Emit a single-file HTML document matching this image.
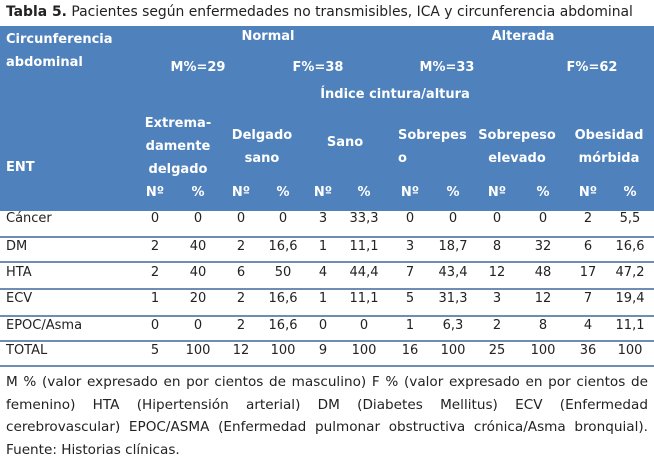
<!DOCTYPE html>
<html><head><meta charset="utf-8"><style>
body{margin:0;width:654px;height:461px;background:#fff;position:relative;overflow:hidden;font-family:"DejaVu Sans","Liberation Sans",sans-serif;font-size:13px;color:#222}
.a{position:absolute;white-space:nowrap;line-height:16px}
.c{transform:translateX(-50%);text-align:center}
.w{color:#fff;font-weight:bold}
.hd{position:absolute;left:0;top:26px;width:654px;height:185px;background:#4f81bd}
.ln{position:absolute;left:0;width:654px;height:2px;background:#6f8cb3}
.ft{position:absolute;left:6px;width:642px;text-align:justify;text-align-last:left;line-height:22.5px;font-size:13.6px;top:371px}
</style></head><body>
<div class="a" style="left:6px;top:4px;font-size:13.9px"><b>Tabla 5.</b> Pacientes según enfermedades no transmisibles, ICA y circunferencia abdominal</div>
<div class="hd"></div>
<div class="a w" style="left:6px;top:32px">Circunferencia</div>
<div class="a w" style="left:6px;top:55px">abdominal</div>
<div class="a w" style="left:6px;top:160px">ENT</div>
<div class="a w c" style="left:268px;top:29px">Normal</div>
<div class="a w c" style="left:523px;top:29px">Alterada</div>
<div class="a w c" style="left:198px;top:60px">M%=29</div>
<div class="a w c" style="left:318px;top:60px">F%=38</div>
<div class="a w c" style="left:447px;top:60px">M%=33</div>
<div class="a w c" style="left:592px;top:60px">F%=62</div>
<div class="a w c" style="left:395px;top:87px">Índice cintura/altura</div>
<div class="a w c" style="left:178px;top:112px;line-height:23px">Extrema-<br>damente<br>delgado</div>
<div class="a w c" style="left:262px;top:124px;line-height:23px">Delgado<br>sano</div>
<div class="a w c" style="left:345px;top:135px">Sano</div>
<div class="a w" style="left:398px;top:124px;line-height:23px">Sobrepes<br>o</div>
<div class="a w c" style="left:517px;top:124px;line-height:23px">Sobrepeso<br>elevado</div>
<div class="a w c" style="left:609px;top:124px;line-height:23px">Obesidad<br>mórbida</div>
<div id="np"></div>
<div class="ln" style="top:236px"></div>
<div class="ln" style="top:261px"></div>
<div class="ln" style="top:288px"></div>
<div class="ln" style="top:315px"></div>
<div class="ln" style="top:340px"></div>
<div class="ln" style="top:365px"></div>
<div id="rows"></div>
<div class="ft">M % (valor expresado en por cientos de masculino) F % (valor expresado en por cientos de femenino) HTA (Hipertensión arterial) DM (Diabetes Mellitus) ECV (Enfermedad cerebrovascular) EPOC/ASMA (Enfermedad pulmonar obstructiva crónica/Asma bronquial). Fuente: Historias clínicas.</div>
<script>
var xs=[155,198,241,283,323,364,410,453,497,543,588,630];
var h='';
for(var i=0;i<12;i++)h+='<div class="a w c" style="left:'+xs[i]+'px;top:185px">'+(i%2?'%':'Nº')+'</div>';
document.getElementById('np').outerHTML=h;
var R=[["Cáncer",0,0,0,0,3,"33,3",0,0,0,0,2,"5,5"],["DM",2,40,2,"16,6",1,"11,1",3,"18,7",8,32,6,"16,6"],["HTA",2,40,6,50,4,"44,4",7,"43,4",12,48,17,"47,2"],["ECV",1,20,2,"16,6",1,"11,1",5,"31,3",3,12,7,"19,4"],["EPOC/Asma",0,0,2,"16,6",0,0,1,"6,3",2,8,4,"11,1"],["TOTAL",5,100,12,100,9,100,16,100,25,100,36,100]];
var ys=[211,239,265,291,318,343];h='';
for(var r=0;r<6;r++){h+='<div class="a" style="left:6px;top:'+ys[r]+'px">'+R[r][0]+'</div>';
for(var i=0;i<12;i++)h+='<div class="a c" style="left:'+xs[i]+'px;top:'+ys[r]+'px">'+R[r][i+1]+'</div>';}
document.getElementById('rows').outerHTML=h;
</script>
</body></html>
